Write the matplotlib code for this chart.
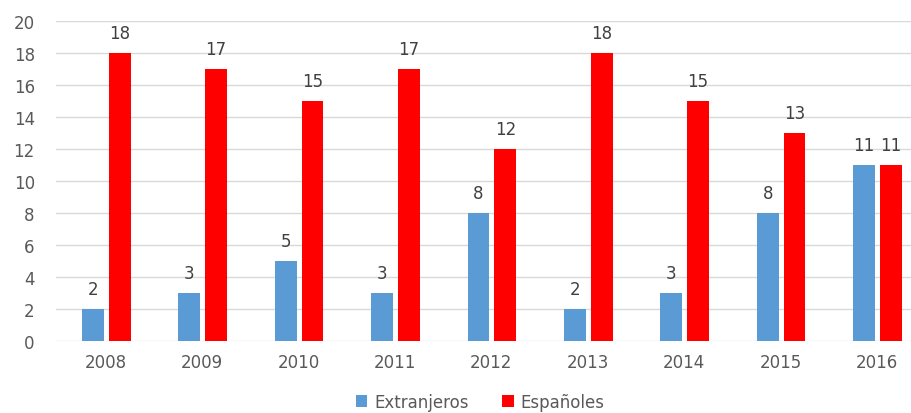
import matplotlib.pyplot as plt
import numpy as np

years = ["2008", "2009", "2010", "2011", "2012", "2013", "2014", "2015", "2016"]
extranjeros = [2, 3, 5, 3, 8, 2, 3, 8, 11]
espanoles = [18, 17, 15, 17, 12, 18, 15, 13, 11]

plt.rcParams['font.family'] = ['DejaVu Sans']
txt = '#595959'

fig = plt.figure(figsize=(9.12, 4.14), dpi=100)
W, H = 912, 414
ax = fig.add_axes([55.7 / W, (H - 342) / H, 867.6 / W, 320 / H])

x = np.arange(len(years))
width = 0.227
off = 0.139
shift = 0.025
b1 = ax.bar(x + shift - off, extranjeros, width, color='#5B9BD5', label='Extranjeros', zorder=3)
b2 = ax.bar(x + shift + off, espanoles, width, color='#FF0000', label='Españoles', zorder=3)

for bars in (b1, b2):
    for bar in bars:
        h = bar.get_height()
        ax.annotate(f'{h:g}', (bar.get_x() + bar.get_width() / 2, h),
                    xytext=(0, 8), textcoords='offset points',
                    ha='center', va='bottom', fontsize=12, color='#404040')

ax.set_xlim(-0.5, len(years) - 0.5)
ax.set_ylim(0, 20)
ax.set_yticks(range(0, 21, 2))
ax.set_xticks(x + 0.02)
ax.set_xticklabels(years)
ax.tick_params(axis='both', length=0, labelsize=12, colors=txt)
ax.tick_params(axis='x', pad=9)
ax.tick_params(axis='y', pad=15)
ax.grid(axis='y', color='#D9D9D9', linewidth=1, zorder=0)
for s in ax.spines.values():
    s.set_visible(False)

fig.legend(loc='center', bbox_to_anchor=(480 / W, 1 - 403 / H), ncol=2, frameon=False,
           fontsize=12, labelcolor=txt, handlelength=0.7, handleheight=0.7,
           handletextpad=0.4, columnspacing=2.0)

fig.savefig('out.png', dpi=100)
